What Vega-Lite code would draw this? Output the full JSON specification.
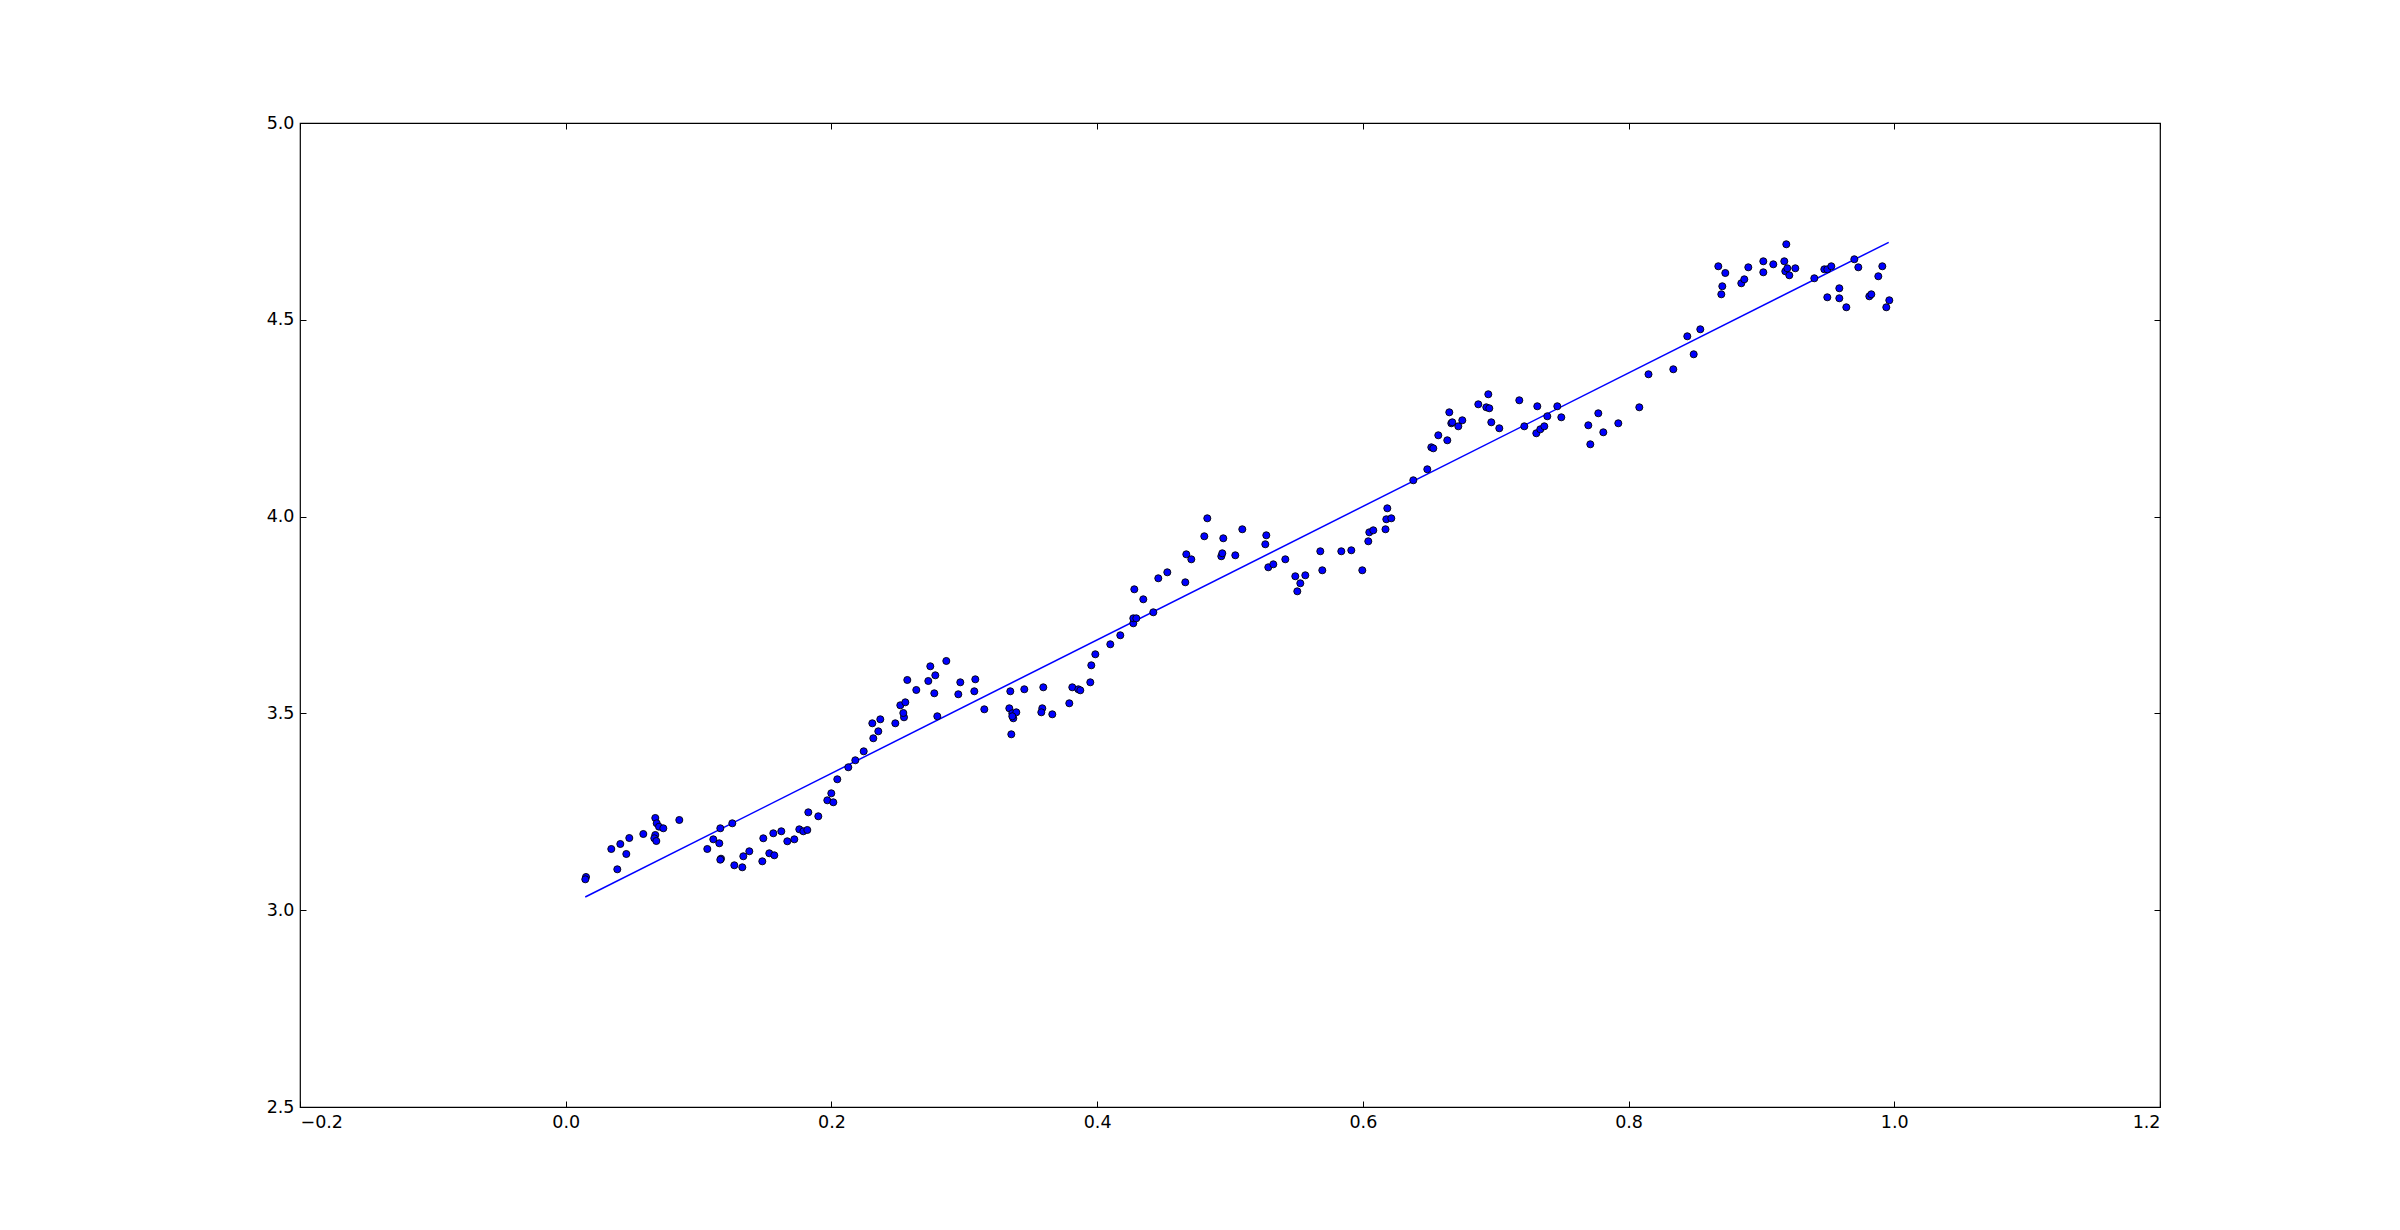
{
  "$schema": "https://vega.github.io/schema/vega-lite/v6.json",
  "width": 1860,
  "height": 984,
  "autosize": {"type": "none"},
  "padding": {"left": 300, "top": 123, "right": 240, "bottom": 123},
  "background": "white",
  "config": {
    "view": {"stroke": "black", "strokeWidth": 1.2},
    "axis": {
      "domain": false,
      "grid": false,
      "ticks": true,
      "tickColor": "black",
      "tickWidth": 1,
      "tickSize": -6,
      "labelFont": "DejaVu Sans",
      "labelFontSize": 17.5,
      "labelColor": "black",
      "title": null
    }
  },
  "datasets": {
    "pts": [
      {"x":0.01527,"y":3.0844},{"x":0.01474,"y":3.0785},{"x":0.03431,"y":3.1555},{"x":0.04109,"y":3.1682},{"x":0.03883,"y":3.1039},
      {"x":0.04561,"y":3.1428},{"x":0.04786,"y":3.1834},{"x":0.05840,"y":3.1936},{"x":0.06743,"y":3.2343},{"x":0.06849,"y":3.2208},
      {"x":0.07022,"y":3.2122},{"x":0.07346,"y":3.2081},{"x":0.06743,"y":3.1911},{"x":0.06668,"y":3.1827},{"x":0.06819,"y":3.1758},
      {"x":0.08550,"y":3.2292},{"x":0.10657,"y":3.1555},{"x":0.11109,"y":3.1801},{"x":0.11560,"y":3.1700},{"x":0.11636,"y":3.2081},
      {"x":0.12539,"y":3.2208},{"x":0.11688,"y":3.1309},{"x":0.11636,"y":3.1283},{"x":0.12690,"y":3.1141},{"x":0.13292,"y":3.1090},
      {"x":0.13367,"y":3.1370},{"x":0.13819,"y":3.1497},{"x":0.14797,"y":3.1242},{"x":0.14872,"y":3.1827},{"x":0.15324,"y":3.1446},
      {"x":0.15700,"y":3.1395},{"x":0.15625,"y":3.1954},{"x":0.16227,"y":3.2005},{"x":0.16679,"y":3.1751},{"x":0.17206,"y":3.1801},
      {"x":0.17582,"y":3.2055},{"x":0.17883,"y":3.2005},{"x":0.18184,"y":3.2038},{"x":0.18260,"y":3.2487},{"x":0.19012,"y":3.2386},
      {"x":0.19690,"y":3.2792},{"x":0.19990,"y":3.2970},{"x":0.20141,"y":3.2742},{"x":0.20442,"y":3.3326},{"x":0.21270,"y":3.3631},
      {"x":0.21797,"y":3.3809},{"x":0.22429,"y":3.4037},{"x":0.23152,"y":3.4368},{"x":0.23528,"y":3.4545},{"x":0.23077,"y":3.4749},
      {"x":0.23679,"y":3.4850},{"x":0.24808,"y":3.4749},{"x":0.25463,"y":3.4901},{"x":0.25410,"y":3.5010},{"x":0.25184,"y":3.5206},
      {"x":0.25561,"y":3.5282},{"x":0.25711,"y":3.5849},{"x":0.26388,"y":3.5595},{"x":0.27292,"y":3.5823},{"x":0.27442,"y":3.6197},
      {"x":0.27819,"y":3.5968},{"x":0.27743,"y":3.5511},{"x":0.27969,"y":3.4927},{"x":0.28647,"y":3.6332},{"x":0.29550,"y":3.5486},
      {"x":0.29700,"y":3.5790},{"x":0.30754,"y":3.5562},{"x":0.30829,"y":3.5866},{"x":0.31507,"y":3.5104},{"x":0.33464,"y":3.5562},
      {"x":0.33389,"y":3.5130},{"x":0.33614,"y":3.5003},{"x":0.33915,"y":3.5028},{"x":0.33689,"y":3.4876},{"x":0.33614,"y":3.4927},
      {"x":0.33539,"y":3.4469},{"x":0.34517,"y":3.5613},{"x":0.35947,"y":3.5663},{"x":0.35872,"y":3.5130},{"x":0.35797,"y":3.5028},
      {"x":0.36625,"y":3.4977},{"x":0.37904,"y":3.5257},{"x":0.38130,"y":3.5663},{"x":0.38582,"y":3.5613},{"x":0.38732,"y":3.5587},
      {"x":0.39485,"y":3.5790},{"x":0.39560,"y":3.6222},{"x":0.39862,"y":3.6502},{"x":0.40990,"y":3.6756},{"x":0.41743,"y":3.6985},
      {"x":0.42722,"y":3.7289},{"x":0.42722,"y":3.7416},{"x":0.42947,"y":3.7416},{"x":0.43474,"y":3.7899},{"x":0.42797,"y":3.8153},
      {"x":0.44227,"y":3.7569},{"x":0.44603,"y":3.8433},{"x":0.45281,"y":3.8585},{"x":0.46636,"y":3.8331},{"x":0.46711,"y":3.9042},
      {"x":0.47087,"y":3.8915},{"x":0.48066,"y":3.9500},{"x":0.48291,"y":3.9957},{"x":0.49345,"y":3.8992},{"x":0.49420,"y":3.9068},
      {"x":0.49495,"y":3.9449},{"x":0.50399,"y":3.9017},{"x":0.50926,"y":3.9678},{"x":0.52657,"y":3.9297},{"x":0.52732,"y":3.9525},
      {"x":0.52883,"y":3.8712},{"x":0.53259,"y":3.8788},{"x":0.54163,"y":3.8915},{"x":0.54915,"y":3.8484},{"x":0.55292,"y":3.8306},
      {"x":0.55066,"y":3.8102},{"x":0.55668,"y":3.8509},{"x":0.56797,"y":3.9119},{"x":0.56947,"y":3.8636},{"x":0.58377,"y":3.9119},
      {"x":0.59130,"y":3.9144},{"x":0.59958,"y":3.8636},{"x":0.60409,"y":3.9373},{"x":0.60485,"y":3.9601},{"x":0.60786,"y":3.9652},
      {"x":0.61704,"y":3.9678},{"x":0.61765,"y":3.9932},{"x":0.61840,"y":4.0211},{"x":0.62141,"y":3.9957},{"x":0.63797,"y":4.0923},
      {"x":0.64851,"y":4.1202},{"x":0.65152,"y":4.1761},{"x":0.65302,"y":4.1735},{"x":0.65678,"y":4.2066},{"x":0.66356,"y":4.1939},
      {"x":0.66506,"y":4.2650},{"x":0.66657,"y":4.2371},{"x":0.66732,"y":4.2396},{"x":0.67184,"y":4.2294},{"x":0.67485,"y":4.2447},
      {"x":0.68689,"y":4.2853},{"x":0.69291,"y":4.2777},{"x":0.69517,"y":4.2752},{"x":0.69442,"y":4.3108},{"x":0.69667,"y":4.2396},
      {"x":0.70270,"y":4.2244},{"x":0.71775,"y":4.2955},{"x":0.72152,"y":4.2294},{"x":0.73130,"y":4.2803},{"x":0.73055,"y":4.2117},
      {"x":0.73356,"y":4.2218},{"x":0.73657,"y":4.2294},{"x":0.73883,"y":4.2549},{"x":0.74636,"y":4.2803},{"x":0.74937,"y":4.2523},
      {"x":0.76969,"y":4.2320},{"x":0.77722,"y":4.2625},{"x":0.77120,"y":4.1837},{"x":0.78098,"y":4.2142},{"x":0.79227,"y":4.2371},
      {"x":0.80808,"y":4.2777},{"x":0.81500,"y":4.3616},{"x":0.83367,"y":4.3743},{"x":0.84420,"y":4.4581},{"x":0.84902,"y":4.4124},
      {"x":0.85399,"y":4.4759},{"x":0.86754,"y":4.6360},{"x":0.87281,"y":4.6189},{"x":0.87055,"y":4.5852},{"x":0.86980,"y":4.5648},
      {"x":0.88485,"y":4.5928},{"x":0.88711,"y":4.6029},{"x":0.89012,"y":4.6334},{"x":0.90141,"y":4.6487},{"x":0.90141,"y":4.6207},
      {"x":0.90893,"y":4.6410},{"x":0.91721,"y":4.6487},{"x":0.91872,"y":4.6919},{"x":0.91797,"y":4.6233},{"x":0.91947,"y":4.6309},
      {"x":0.92098,"y":4.6131},{"x":0.92550,"y":4.6309},{"x":0.93980,"y":4.6055},{"x":0.94733,"y":4.6283},{"x":0.94959,"y":4.6283},
      {"x":0.95260,"y":4.6360},{"x":0.94959,"y":4.5572},{"x":0.95863,"y":4.5801},{"x":0.95863,"y":4.5547},{"x":0.96390,"y":4.5318},
      {"x":0.96992,"y":4.6538},{"x":0.97293,"y":4.6334},{"x":0.98121,"y":4.5597},{"x":0.98271,"y":4.5648},{"x":0.98798,"y":4.6106},
      {"x":0.99099,"y":4.6360},{"x":0.99399,"y":4.5318},{"x":0.99625,"y":4.5496}
    ],
    "fit": [
      {"x":0.0147,"y":3.0335},
      {"x":0.9958,"y":4.6969}
    ]
  },
  "layer": [
    {
      "data": {"name": "fit"},
      "mark": {"type": "line", "color": "#0000ff", "strokeWidth": 1.5, "clip": true},
      "encoding": {
        "x": {"field": "x", "type": "quantitative", "scale": {"domain": [-0.2, 1.2], "nice": false, "zero": false},
              "axis": {"orient": "top", "labels": false, "values": [-0.2,0,0.2,0.4,0.6,0.8,1.0,1.2]}},
        "y": {"field": "y", "type": "quantitative", "scale": {"domain": [2.5, 5.0], "nice": false, "zero": false},
              "axis": {"orient": "right", "labels": false, "values": [2.5,3.0,3.5,4.0,4.5,5.0]}}
      }
    },
    {
      "data": {"name": "pts"},
      "mark": {"type": "point", "shape": "circle", "filled": true, "fill": "#0000ff", "stroke": "black", "strokeWidth": 0.9, "size": 50, "opacity": 1},
      "encoding": {
        "x": {"field": "x", "type": "quantitative",
              "axis": {"orient": "bottom", "values": [-0.2,0,0.2,0.4,0.6,0.8,1.0,1.2], "format": ".1f", "labelPadding": 12}},
        "y": {"field": "y", "type": "quantitative",
              "axis": {"orient": "left", "values": [2.5,3.0,3.5,4.0,4.5,5.0], "format": ".1f", "labelPadding": 12}}
      }
    }
  ],
  "resolve": {"axis": {"x": "independent", "y": "independent"}}
}
